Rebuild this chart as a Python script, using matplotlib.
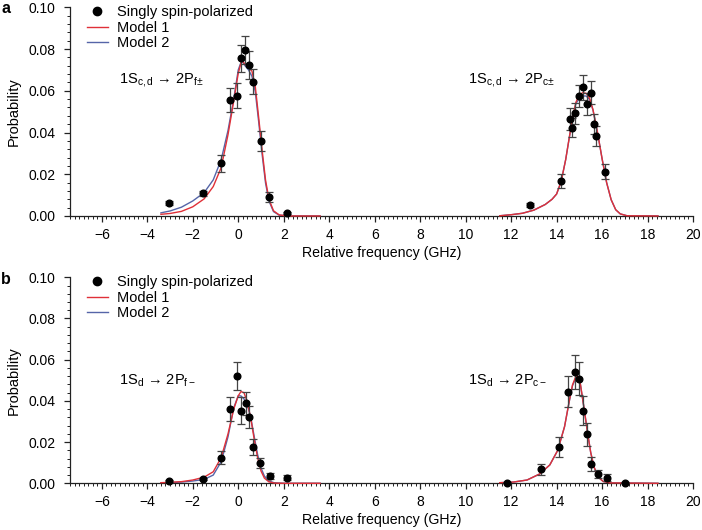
import matplotlib
matplotlib.use("Agg")
import matplotlib.pyplot as plt
from matplotlib.lines import Line2D
from matplotlib.ticker import MultipleLocator

plt.rcParams["font.family"] = ["Liberation Sans", "DejaVu Sans"]
plt.rcParams["mathtext.fontset"] = "custom"
plt.rcParams["mathtext.rm"] = "Liberation Sans"
plt.rcParams["mathtext.it"] = "Liberation Sans:italic"

# panel a: measured points
a_x = [-3.03, -1.54, -0.75, -0.37, -0.04, 0.12, 0.31, 0.48, 0.67, 0.98, 1.36, 2.15,
       12.82, 14.21, 14.58, 14.68, 14.81, 14.99, 15.17, 15.34, 15.53, 15.65, 15.75, 16.13]
a_y = [0.0061, 0.0109, 0.0252, 0.0556, 0.0577, 0.0756, 0.0794, 0.0724, 0.0644, 0.0360, 0.0091, 0.0016,
       0.0053, 0.0168, 0.0465, 0.0423, 0.0492, 0.0575, 0.0617, 0.0537, 0.0591, 0.0441, 0.0383, 0.0212]
a_err = [0.0010, 0.0013, 0.0040, 0.0058, 0.0058, 0.0065, 0.0068, 0.0066, 0.0060, 0.0048, 0.0026, 0.0005,
         0.0010, 0.0032, 0.0052, 0.0046, 0.0050, 0.0052, 0.0060, 0.0052, 0.0055, 0.0050, 0.0046, 0.0036]

# panel b: measured points
b_x = [-3.03, -1.54, -0.75, -0.37, -0.04, 0.13, 0.32, 0.48, 0.67, 0.97, 1.39, 2.15,
       11.80, 13.31, 14.10, 14.51, 14.80, 14.98, 15.15, 15.33, 15.52, 15.82, 16.22, 17.01]
b_y = [0.0011, 0.0019, 0.0124, 0.0361, 0.0521, 0.0353, 0.0388, 0.0320, 0.0178, 0.0097, 0.0036, 0.0028,
       0.0003, 0.0068, 0.0175, 0.0445, 0.0539, 0.0507, 0.0353, 0.0238, 0.0094, 0.0045, 0.0028, 0.0003]
b_err = [0.0004, 0.0005, 0.0032, 0.0057, 0.0068, 0.0065, 0.0057, 0.0053, 0.0039, 0.0024, 0.0016, 0.0013,
         0.0003, 0.0028, 0.0049, 0.0074, 0.0083, 0.0080, 0.0069, 0.0055, 0.0032, 0.0020, 0.0018, 0.0003]

# model curves
a_fx = [-3.4, -3.0, -2.5, -2.0, -1.5, -1.1, -0.75, -0.45, -0.2, 0.0, 0.15, 0.3, 0.45, 0.6, 0.75,
        0.9, 1.05, 1.2, 1.35, 1.55, 1.8, 2.2, 3.6]
a_m1 = [0.0008, 0.0012, 0.0022, 0.0044, 0.0082, 0.0141, 0.0232, 0.0390, 0.0550, 0.0684, 0.0745,
        0.0728, 0.0710, 0.0695, 0.0620, 0.0470, 0.0315, 0.0172, 0.0080, 0.0025, 0.0005, 0.0, 0.0]
a_m2 = [0.0015, 0.0024, 0.0042, 0.0072, 0.0112, 0.0173, 0.0270, 0.0410, 0.0560, 0.0700, 0.0745,
        0.0720, 0.0700, 0.0670, 0.0595, 0.0450, 0.0295, 0.0158, 0.0072, 0.0021, 0.0004, 0.0, 0.0]

a_gx = [11.5, 12.0, 12.5, 13.0, 13.5, 13.8, 14.0, 14.2, 14.4, 14.55, 14.7, 14.85, 15.0, 15.15,
        15.3, 15.45, 15.6, 15.8, 16.0, 16.2, 16.4, 16.6, 16.8, 17.1, 18.46]
a_g1 = [0.0001, 0.0006, 0.0013, 0.0028, 0.0055, 0.0080, 0.0105, 0.0165, 0.0270, 0.0370, 0.0470,
        0.0545, 0.0580, 0.0591, 0.0588, 0.0565, 0.0510, 0.0400, 0.0275, 0.0160, 0.0078, 0.0030,
        0.0010, 0.0001, 0.0]
a_g2 = [0.0001, 0.0006, 0.0013, 0.0028, 0.0055, 0.0080, 0.0105, 0.0165, 0.0270, 0.0370, 0.0468,
        0.0538, 0.0565, 0.0575, 0.0575, 0.0558, 0.0508, 0.0400, 0.0275, 0.0160, 0.0078, 0.0030,
        0.0010, 0.0001, 0.0]

b_fx = [-3.4, -3.0, -2.5, -2.0, -1.5, -1.1, -0.75, -0.45, -0.2, 0.0, 0.12, 0.25, 0.4, 0.55, 0.7,
        0.85, 1.0, 1.15, 1.35, 1.6, 2.0, 3.6]
b_m1 = [0.0003, 0.0005, 0.0008, 0.0016, 0.0030, 0.0056, 0.0125, 0.0240, 0.0360, 0.0425, 0.0445,
        0.0440, 0.0395, 0.0315, 0.0215, 0.0125, 0.0060, 0.0025, 0.0007, 0.0001, 0.0, 0.0]
b_m2 = [0.0002, 0.0003, 0.0006, 0.0011, 0.0019, 0.0040, 0.0105, 0.0226, 0.0366, 0.0425, 0.0424,
        0.0410, 0.0380, 0.0320, 0.0228, 0.0140, 0.0075, 0.0035, 0.0011, 0.0002, 0.0, 0.0]

b_gx = [11.5, 12.1, 12.7, 13.25, 13.7, 14.05, 14.35, 14.55, 14.7, 14.85, 14.95, 15.05, 15.2,
        15.35, 15.5, 15.65, 15.85, 16.05, 16.35, 18.46]
b_g1 = [0.0003, 0.0006, 0.0016, 0.0045, 0.0089, 0.0160, 0.0275, 0.0395, 0.0478, 0.0520, 0.0515,
        0.0480, 0.0370, 0.0255, 0.0150, 0.0078, 0.0028, 0.0009, 0.0002, 0.0]
b_g2 = [0.0003, 0.0006, 0.0016, 0.0045, 0.0089, 0.0160, 0.0275, 0.0393, 0.0474, 0.0512, 0.0510,
        0.0478, 0.0370, 0.0255, 0.0150, 0.0078, 0.0028, 0.0009, 0.0002, 0.0]

a_labels = [r"1S$_{\mathrm{c,d}}$ → 2P$_{\mathrm{f±}}$", r"1S$_{\mathrm{c,d}}$ → 2P$_{\mathrm{c±}}$"]
b_labels = [r"1S$_{\mathrm{d}}$ → 2P$_{\mathrm{f−}}$", r"1S$_{\mathrm{d}}$ → 2P$_{\mathrm{c−}}$"]
label_x = [-5.25, 10.1]

RED = "#e03038"
BLUE = "#5565a8"


def draw_panel(ax, x, y, err, curves, labels, label_y):
    for cx, c1, c2 in curves:
        ax.plot(cx, c2, color=BLUE, lw=1.0, clip_on=False, zorder=2)
        ax.plot(cx, c1, color=RED, lw=1.0, clip_on=False, zorder=3)
    ax.errorbar(x, y, yerr=err, fmt="o", color="black", ms=4.8, ecolor="#444444",
                elinewidth=0.9, capsize=2.6, capthick=0.9, clip_on=False, zorder=4)

    for lx, txt in zip(label_x, labels):
        ax.text(lx, label_y, txt, fontsize=10.5, ha="left", va="center")

    ax.set_xlim(-7.4, 20)
    ax.set_ylim(0, 0.1)
    ax.xaxis.set_major_locator(MultipleLocator(2))
    ax.xaxis.set_minor_locator(MultipleLocator(0.2))
    ax.yaxis.set_major_locator(MultipleLocator(0.02))
    ax.yaxis.set_minor_locator(MultipleLocator(0.004))
    ax.yaxis.set_major_formatter(plt.FormatStrFormatter("%.2f"))
    for s in ["top", "right"]:
        ax.spines[s].set_visible(False)
    for s in ["left", "bottom"]:
        ax.spines[s].set_linewidth(0.9)
        ax.spines[s].set_color("#222222")
    ax.tick_params(which="major", length=4.5, width=0.9, labelsize=10, color="#222222")
    ax.tick_params(which="minor", length=2.3, width=0.7, color="#222222")
    ax.tick_params(axis="x", pad=4)
    ax.tick_params(axis="y", pad=6)
    ax.set_xlabel("Relative frequency (GHz)", fontsize=10.2, labelpad=3)
    ax.set_ylabel("Probability", fontsize=10.5)
    ax.yaxis.set_label_coords(-0.079, 0.5)

    handles = [Line2D([], [], ls="none", marker="o", color="black", ms=6),
               Line2D([], [], color=RED, lw=1.0),
               Line2D([], [], color=BLUE, lw=1.0)]
    ax.legend(handles, ["Singly spin-polarized", "Model 1", "Model 2"], loc="upper left",
              bbox_to_anchor=(0.027, 1.01), frameon=False, fontsize=10.5, borderpad=0,
              borderaxespad=0, handlelength=1.45, handletextpad=0.6, labelspacing=0.1)


fig = plt.figure(figsize=(7.02, 5.30), dpi=100)
ax1 = fig.add_axes([0.0997, 0.5925, 0.8875, 0.3937])
ax2 = fig.add_axes([0.0997, 0.0881, 0.8875, 0.3887])

draw_panel(ax1, a_x, a_y, a_err, [(a_fx, a_m1, a_m2), (a_gx, a_g1, a_g2)], a_labels, 0.065)
draw_panel(ax2, b_x, b_y, b_err, [(b_fx, b_m1, b_m2), (b_gx, b_g1, b_g2)], b_labels, 0.050)

fig.text(0.002, 0.998, "a", fontsize=11.5, fontweight="bold", va="top")
fig.text(0.002, 0.487, "b", fontsize=11.5, fontweight="bold", va="top")

fig.savefig("out.png", dpi=100)
